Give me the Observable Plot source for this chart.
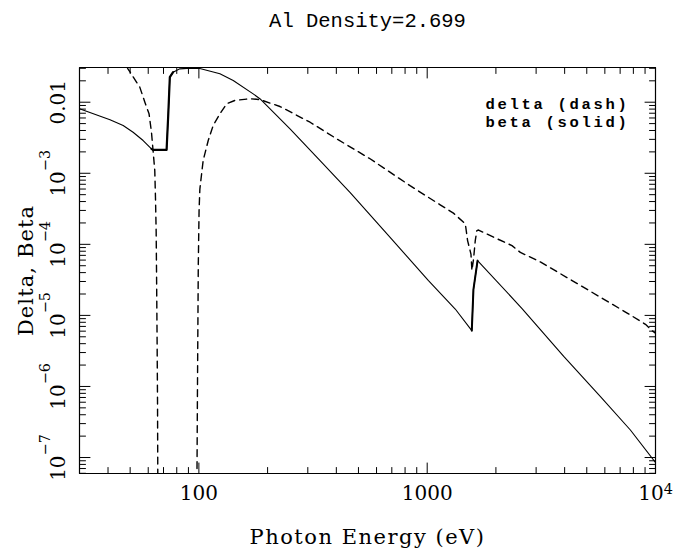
<!DOCTYPE html>
<html>
<head>
<meta charset="utf-8">
<script src="https://cdn.jsdelivr.net/npm/d3@7"></script>
<script src="https://cdn.jsdelivr.net/npm/@observablehq/plot@0.6"></script>
<style>
  html, body { margin: 0; padding: 0; background: #fff; }
</style>
</head>
<body>
<div id="chart"></div>
<script>
// ---- Data ----
const titleText = ["Al Density=2.699"];
const xLabel = ["Photon Energy (eV)"];
const yLabel = ["Delta, Beta"];
const legendLines = ["delta (dash)", "beta (solid)"];

// beta (solid line): photon energy (eV) and value
const energyBeta = [30, 40.8, 46.6, 51.5, 57.0, 62.0, 63.0, 72.2, 73.4, 74.6, 77.1, 82.5, 92, 101, 123.6,
  141.4, 172.9, 185, 250.7, 339.5, 459, 688, 1013, 1327, 1568, 1594, 1662, 2603, 3963, 5740, 7762, 10000];
const beta = [8.07e-3, 5.65e-3, 4.7e-3, 3.78e-3, 2.89e-3, 2.21e-3, 2.13e-3, 2.13e-3, 6.5e-3, 0.0225, 0.0265,
  0.0295, 0.0302, 0.0298, 0.0251, 0.0202, 0.0131, 0.0112, 4.22e-3, 1.51e-3, 5.4e-4, 1.255e-4, 3.08e-5,
  1.23e-5, 6.1e-6, 2.3e-5, 5.9e-5, 1.25e-5, 2.65e-6, 7.2e-7, 2.44e-7, 8.5e-8];

// delta (dashed line): the negative region (about 66–98 eV) is not drawn (null)
const energyDelta = [46, 48.9, 55.1, 58.0, 60.5, 62.0, 63.0, 64.1, 64.6, 65.0, 65.3, 65.6, 65.9, 66.2, 80,
  97.8, 98.6, 99.4, 100.2, 101, 104.4, 109.9, 115.5, 123.6, 132.3, 143.8, 167, 185, 226.5, 306.9,
  401.6, 562, 841, 1140, 1303, 1469, 1503, 1555, 1570, 1596, 1624, 1650, 1679, 1955, 2352,
  2559, 3130, 4236, 5740, 7516, 9036, 9670, 10000];
const delta = [0.045, 0.0295, 0.0163, 0.0100, 6.87e-3, 3.78e-3, 2.09e-3, 1.09e-3, 4.1e-4, 1.5e-4, 3e-5,
  5e-6, 6e-7, 1e-8, null, 1e-8, 1e-6, 5e-5, 3e-4, 6.0e-4, 1.51e-3, 2.89e-3, 4.7e-3, 6.87e-3, 9.5e-3,
  0.0106, 0.0112, 0.0109, 8.7e-3, 5.23e-3, 3.05e-3, 1.6e-3, 6.7e-4, 3.6e-4, 2.75e-4, 1.94e-4, 1.13e-4,
  7.3e-5, 4.3e-5, 6.2e-5, 1.13e-4, 1.56e-4, 1.59e-4, 1.26e-4, 9.6e-5, 7.7e-5, 5.65e-5, 3.2e-5, 1.8e-5,
  1.08e-5, 7.5e-6, 6.1e-6, 5.6e-6];

// axes
const xDomain = [30, 10000];
const yDomain = [5.96e-8, 0.0308];
const xTickValues = [100, 1000, 10000];
const xTickLabels = ["100", "1000", "10^4"];
const xMinorTicks = [40, 50, 60, 70, 80, 90, 200, 300, 400, 500, 600, 700, 800, 900,
  2000, 3000, 4000, 5000, 6000, 7000, 8000, 9000];
const yTickValues = [1e-7, 1e-6, 1e-5, 1e-4, 1e-3, 1e-2];
const yTickLabels = ["10^\u22127", "10^\u22126", "10^\u22125", "10^\u22124", "10^\u22123", "0.01"];
const yDecades = [1e-8, 1e-7, 1e-6, 1e-5, 1e-4, 1e-3, 1e-2];
const yMultipliers = [2, 3, 4, 5, 6, 7, 8, 9];

// ---- Layout ----
const W = 677, H = 551;
const mL = 79, mR = 22, mT = 67, mB = 78;
const majorLen = 10.5, minorLen = 6;

const betaRows = energyBeta.map((e, i) => ({E: e, v: beta[i]}));
const deltaRows = energyDelta.map((e, i) => ({E: e, v: delta[i]}));
const yMinorTicks = yDecades.flatMap(d => yMultipliers.map(m => m * d))
  .filter(v => v > yDomain[0] && v < yDomain[1]);
const frameCorners = [
  {E: xDomain[0], v: yDomain[0]}, {E: xDomain[1], v: yDomain[0]},
  {E: xDomain[1], v: yDomain[1]}, {E: xDomain[0], v: yDomain[1]}, {E: xDomain[0], v: yDomain[0]}
];

const serif = "DejaVu Serif";
const mono = "Liberation Mono";

// a tick drawn as a plain stroke pointing "up" before rotation
const tickShape = {draw(context, l) { context.moveTo(0, 0); context.lineTo(0, -l); }};
function ticks(values, channel, frameAnchor, rotate, len) {
  return Plot.vector(values, {
    [channel]: d => d, frameAnchor, rotate, length: len, anchor: "start",
    shape: tickShape, stroke: "#000", strokeWidth: 1
  });
}

const plot = Plot.plot({
  width: W, height: H,
  marginLeft: mL, marginRight: mR, marginTop: mT, marginBottom: mB,
  style: {fontFamily: serif, background: "#fff", overflow: "visible"},
  x: {type: "log", domain: xDomain, axis: null},
  y: {type: "log", domain: yDomain, axis: null},
  marks: [
    // frame
    Plot.line(frameCorners, {x: "E", y: "v", stroke: "#000", strokeWidth: 1.2}),
    // ticks on all four sides, pointing inward
    ticks(xTickValues, "x", "bottom", 0, majorLen),
    ticks(xTickValues, "x", "top", 180, majorLen),
    ticks(xMinorTicks, "x", "bottom", 0, minorLen),
    ticks(xMinorTicks, "x", "top", 180, minorLen),
    ticks(yTickValues, "y", "left", 90, majorLen),
    ticks(yTickValues, "y", "right", -90, majorLen),
    ticks(yMinorTicks, "y", "left", 90, minorLen),
    ticks(yMinorTicks, "y", "right", -90, minorLen),
    // data
    Plot.line(deltaRows, {x: "E", y: "v", stroke: "#000", strokeWidth: 1.4, strokeDasharray: "7,5", clip: true}),
    Plot.line(betaRows, {x: "E", y: "v", stroke: "#000", strokeWidth: 1.1, clip: true}),
    Plot.line(betaRows.filter(d => d.E >= 62 && d.E <= 77.1), {x: "E", y: "v", stroke: "#000", strokeWidth: 2.2, clip: true}),
    Plot.line(betaRows.filter(d => d.E >= 1568 && d.E <= 1662), {x: "E", y: "v", stroke: "#000", strokeWidth: 2, clip: true}),
    // tick labels
    Plot.text(xTickValues, {x: d => d, text: (d, i) => xTickLabels[i], frameAnchor: "bottom", dy: 26,
      textAnchor: "middle", lineAnchor: "bottom", fontSize: 20, fontFamily: serif, fill: "#000"}),
    Plot.text(yTickValues, {y: d => d, text: (d, i) => yTickLabels[i], frameAnchor: "left", dx: -15,
      rotate: -90, textAnchor: "middle", lineAnchor: "bottom", fontSize: 20, fontFamily: serif, fill: "#000"}),
    // titles
    Plot.text(titleText, {text: d => d, frameAnchor: "top", dy: -40.5, textAnchor: "middle", lineAnchor: "bottom",
      fontSize: 20.5, fontFamily: mono, fill: "#000"}),
    Plot.text(xLabel, {text: d => d, frameAnchor: "bottom", dy: 70, textAnchor: "middle", lineAnchor: "bottom",
      fontSize: 21, fontFamily: serif, fill: "#000"}),
    Plot.text(yLabel, {text: d => d, frameAnchor: "left", dx: -47, rotate: -90, textAnchor: "middle",
      lineAnchor: "bottom", fontSize: 21, fontFamily: serif, fill: "#000"}),
    // in-plot legend text (one two-line text)
    Plot.text([legendLines.join("\n")], {text: d => d, frameAnchor: "top-left", dx: 406, dy: 59,
      textAnchor: "start", lineAnchor: "bottom", lineHeight: 1.16, fontSize: 15.5, fontWeight: "bold",
      fontFamily: mono, fill: "#000"})
  ]
});

// superscripts and letter spacing
d3.select(plot).selectAll("text").each(function () {
  const t = this.textContent;
  if (t.includes("^")) {
    const [base, exp] = t.split("^");
    this.textContent = base;
    const neg = exp.startsWith("\u2212");
    d3.select(this).append("tspan")
      .attr("font-size", "0.72em")
      .attr("dy", neg ? -15 : -6)
      .text(exp);
  } else if (t === xLabel[0]) {
    this.setAttribute("letter-spacing", "1.5");
  } else if (t === yLabel[0]) {
    this.setAttribute("letter-spacing", "1.1");
  } else if (t === legendLines.join("")) {
    this.setAttribute("letter-spacing", "2.7");
  }
});

document.getElementById("chart").appendChild(plot);
</script>
</body>
</html>
